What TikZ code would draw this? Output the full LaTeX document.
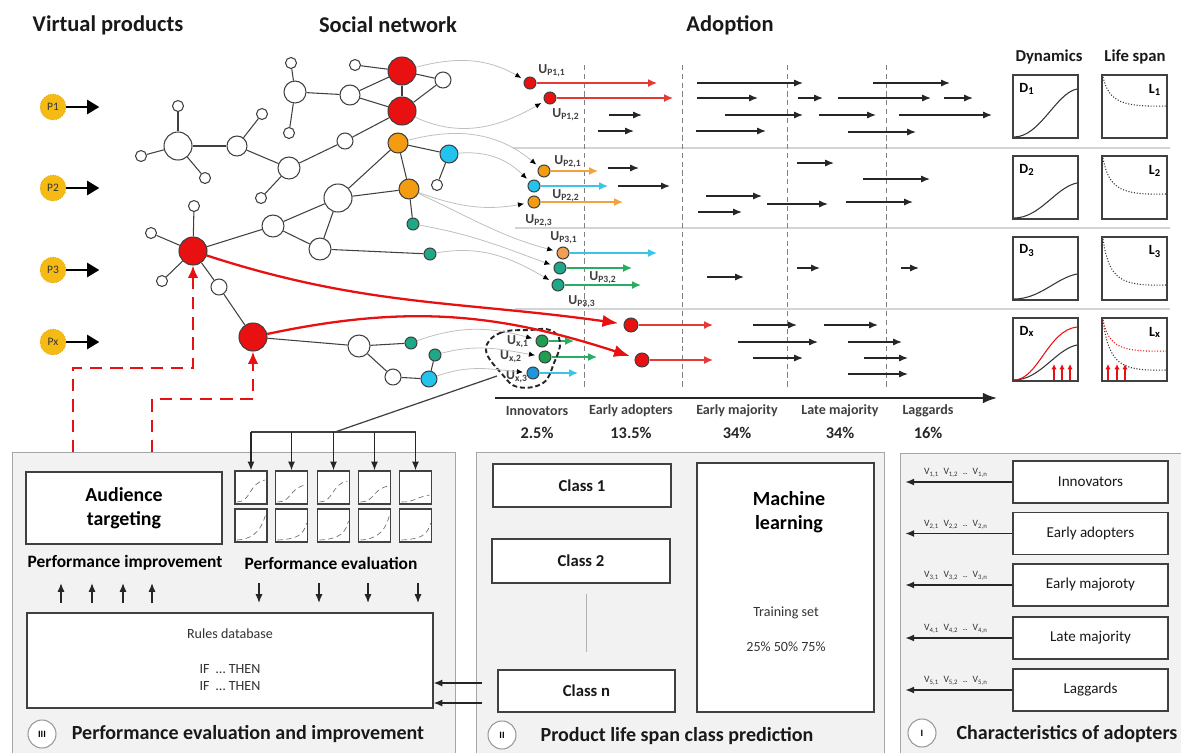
\documentclass[tikz,border=0pt]{standalone}
\usepackage{fontspec}
\setmainfont{Carlito}
\usetikzlibrary{arrows.meta,calc}
\definecolor{cred}{HTML}{E81010}
\definecolor{corange}{HTML}{F39C12}
\definecolor{ccyan}{HTML}{22C4EE}
\definecolor{cteal}{HTML}{1FA888}
\definecolor{cgreen}{HTML}{1E9E50}
\definecolor{cyel}{HTML}{F5BA14}
\definecolor{clor}{HTML}{F0A050}
\definecolor{cblue}{HTML}{1E96DC}
\definecolor{edge}{HTML}{404040}
\definecolor{panelfill}{HTML}{F2F2F2}
\definecolor{panelline}{HTML}{A6A6A6}
\definecolor{arred}{HTML}{E53935}
\definecolor{arorange}{HTML}{F2A33A}
\definecolor{arcyan}{HTML}{3CC4E6}
\definecolor{argreen}{HTML}{27AE60}
\definecolor{sepline}{HTML}{D4D4D4}
\begin{document}
\begin{tikzpicture}[x=0.02cm,y=-0.02cm,
  nd/.style={circle,draw=edge,line width=0.6pt,inner sep=0pt,fill=white},
  rA/.style={minimum size=0.56cm},
  rB/.style={minimum size=0.44cm},
  rC/.style={minimum size=0.40cm},
  rD/.style={minimum size=0.32cm},
  rE/.style={minimum size=0.22cm},
  rF/.style={minimum size=0.24cm},
  rG/.style={minimum size=0.36cm},
  rH/.style={minimum size=0.28cm},
  net/.style={draw=edge,line width=0.6pt},
  gcon/.style={draw=black!25,line width=0.45pt,-{Latex[length=3.5pt,width=3pt,color=black]},shorten >=2pt},
  blk/.style={draw=black!85,line width=0.75pt,-{Latex[length=5pt,width=4pt]}},
  carr/.style={line width=0.8pt,-{Latex[length=5pt,width=4.5pt]}},
  pnode/.style={circle,fill=cyel,draw=cyel!85!black,densely dotted,line width=0.4pt,minimum size=0.52cm,inner sep=0pt,font=\fontsize{6.5}{7}\selectfont,text=black!80},
  parr/.style={draw=black,line width=1.5pt,-{Triangle[length=7pt,width=8pt]}},
  hdr/.style={font=\bfseries\fontsize{12.8}{14}\selectfont,text=black!90},
  sub/.style={font=\bfseries\fontsize{9.5}{11}\selectfont,text=black!90},
  ulab/.style={font=\bfseries\fontsize{7.8}{8}\selectfont,text=black!75,inner sep=0pt},
  stage/.style={font=\bfseries\fontsize{8}{9}\selectfont,text=black!75},
  pct/.style={font=\bfseries\fontsize{9.3}{10}\selectfont,text=black!85},
  panel/.style={draw=panelline,fill=panelfill,line width=0.8pt,inner sep=0pt,anchor=north west},
  box/.style={draw=edge,fill=white,line width=0.7pt,inner sep=0pt,rectangle},
  gbox/.style={draw=edge,fill=white,line width=0.8pt,inner sep=0pt,rectangle},
  ttl/.style={font=\bfseries\fontsize{11.4}{13}\selectfont,text=black!90},
  cls/.style={font=\bfseries\fontsize{9.5}{11}\selectfont,text=black!90},
  small/.style={font=\fontsize{8}{9}\selectfont,text=black!80},
  vlab/.style={font=\fontsize{5.5}{6}\selectfont,text=black!80},
  roman/.style={circle,draw=black!40,fill=white,line width=0.6pt,minimum size=0.56cm,inner sep=0pt,font=\bfseries\fontsize{5.5}{6}\selectfont},
  reddash/.style={draw=cred,line width=1.3pt,dash pattern=on 7pt off 4.5pt,-{Latex[length=7pt,width=6pt]}},
  redthick/.style={draw=cred,line width=1.3pt,-{Latex[length=9pt,width=7pt]},shorten >=3pt},
  vdash/.style={draw=black!50,line width=0.4pt,densely dashed},
  sep/.style={draw=sepline,line width=0.7pt},
  mini/.style={draw=black!60,line width=0.35pt,densely dashed},
  dcurve/.style={draw=black!80,line width=0.6pt},
  lcurve/.style={draw=black!80,line width=0.6pt,densely dotted},
  rarr/.style={draw=cred,line width=0.6pt,-{Latex[length=3pt,width=3pt]}}
]
\useasboundingbox (0,0) rectangle (1181,752);

% ---------------- headers
\node[hdr] (hvp) at (108,25) {Virtual products};
\node[hdr] (hsn) at (388,25) {Social network};
\node[hdr] (had) at (730,25) {Adoption};
\node[sub] (hdy) at (1049,57) {Dynamics};
\node[sub] (hls) at (1135,57) {Life span};

% ---------------- products
\node[pnode] (p1) at (53,107) {P1};
\node[pnode] (p2) at (53,188) {P2};
\node[pnode] (p3) at (53,270) {P3};
\node[pnode] (px) at (53,342) {Px};
\foreach \p in {p1,p2,p3,px} \draw[parr] (\p.east) -- ++(33,0);

% ---------------- row separators and stage lines
\draw[sep] (513,148) -- (1170,148);
\draw[sep] (515,228) -- (1170,228);
\draw[sep] (515,309) -- (1170,309);
\foreach \x in {584,682,787,886} \draw[vdash] (\x,65) -- (\x,388);

% ---------------- panels (background)
\node[panel,minimum width=8.86cm,minimum height=6.04cm] (pan3) at (12,452) {};
\node[panel,minimum width=8.16cm,minimum height=6.04cm] (pan2) at (476,452) {};
\node[panel,minimum width=5.80cm,minimum height=6.02cm] (pan1) at (900,453) {};

% ---------------- social network nodes
\node[nd,rA,fill=cred] (R1) at (402,71) {};
\node[nd,rA,fill=cred] (R2) at (402,111) {};
\node[nd,rD] (Wa) at (443,80) {};
\node[nd,rE] (s1) at (355,65) {};
\node[nd,rC] (Wb) at (350,95) {};
\node[nd,rB] (Wc) at (295,92) {};
\node[nd,rE] (s2) at (291,63) {};
\node[nd,rE] (s3) at (289,133) {};
\node[nd,rD] (Wd) at (345,141) {};
\node[nd,rB] (We) at (289,168) {};
\node[nd,rE] (s4) at (261,198) {};
\node[nd,rC] (Wf) at (237,146) {};
\node[nd,rE] (s5) at (262,114) {};
\node[nd,rA] (Wg) at (178,146) {};
\node[nd,rE] (s6) at (178,106) {};
\node[nd,rE] (s7) at (141,156) {};
\node[nd,rE] (s8) at (205,178) {};
\node[nd,rC,fill=corange] (O1) at (398,143) {};
\node[nd,rG,fill=ccyan] (C1) at (449,154) {};
\node[nd,rE] (s9) at (437,185) {};
\node[nd,rC,fill=corange] (O2) at (409,189) {};
\node[nd,rF,fill=cteal] (T1) at (413,224) {};
\node[nd,rA] (Wh) at (338,198) {};
\node[nd,rB] (Wi) at (273,226) {};
\node[nd,rB] (Wj) at (320,249) {};
\node[nd,rF,fill=cteal] (T2) at (430,254) {};
\node[nd,rA,fill=cred] (R3) at (193,251) {};
\node[nd,rE] (s10) at (194,206) {};
\node[nd,rE] (s11) at (151,233) {};
\node[nd,rE] (s12) at (162,281) {};
\node[nd,rD] (Wk) at (219,287) {};
\node[nd,rA,fill=cred] (R4) at (253,337) {};
\node[nd,rB] (Wl) at (359,346) {};
\node[nd,rF,fill=cteal] (T3) at (411,343) {};
\node[nd,rF,fill=cteal] (T4) at (435,355) {};
\node[nd,rD] (Wm) at (393,377) {};
\node[nd,rD,fill=ccyan] (C2) at (429,379) {};
\foreach \a/\b in {R1/Wa,R2/Wa,R1/R2,R1/s1,R1/Wb,R2/Wb,Wb/Wc,Wc/s2,Wc/s3,R2/Wd,Wd/We,We/s4,We/Wf,Wf/s5,Wf/Wg,Wg/s6,Wg/s7,Wg/s8,O1/C1,O1/O2,C1/s9,O2/T1,O1/Wh,O2/Wh,Wh/Wi,Wh/Wj,Wi/Wj,Wj/T2,Wi/R3,R3/s10,R3/s11,R3/s12,R3/Wk,Wk/R4,R4/Wl,Wl/T3,Wl/Wm,Wm/C2,C2/T4}
  \draw[net] (\a) -- (\b);

% ---------------- adopters
\node[nd,rF,fill=cred] (u11) at (530,83) {};
\node[nd,rF,fill=cred] (u12) at (550,98) {};
\node[nd,rF,fill=corange] (u21) at (544,171) {};
\node[nd,rF,fill=ccyan] (u2c) at (534,186) {};
\node[nd,rF,fill=corange] (u22) at (534,202) {};
\node[nd,rF,fill=clor] (u31) at (563,253) {};
\node[nd,rF,fill=cteal] (u32) at (560,268) {};
\node[nd,rF,fill=cteal] (u33) at (558,285) {};
\node[nd,rH,fill=cred] (x1) at (631,325) {};
\node[nd,rH,fill=cred] (x2) at (642,360) {};
\node[nd,rF,fill=cgreen] (ux1) at (542,341) {};
\node[nd,rF,fill=cgreen] (ux2) at (545,357) {};
\node[nd,rF,fill=cblue] (ux3) at (533,373) {};

\draw[carr,arred] (u11.east) -- (657,83);
\draw[carr,arred] (u12.east) -- (673,98);
\draw[carr,arorange] (u21.east) -- (598,171);
\draw[carr,arcyan] (u2c.east) -- (608,186);
\draw[carr,arorange] (u22.east) -- (623,202);
\draw[carr,arcyan] (u31.east) -- (657,253);
\draw[carr,argreen] (u32.east) -- (632,268);
\draw[carr,argreen] (u33.east) -- (641,285);
\draw[carr,arred] (x1.east) -- (713,325);
\draw[carr,arred] (x2.east) -- (713,360);
\draw[carr,argreen] (ux1.east) -- (574,341);
\draw[carr,argreen] (ux2.east) -- (597,357);
\draw[carr,arcyan] (ux3.east) -- (578,373);

\node[ulab] (lu11) at (552,71) {U\textsubscript{P1,1}};
\node[ulab] (lu12) at (566,115) {U\textsubscript{P1,2}};
\node[ulab] (lu21) at (568,162) {U\textsubscript{P2,1}};
\node[ulab] (lu22) at (566,196) {U\textsubscript{P2,2}};
\node[ulab] (lu23) at (539,221) {U\textsubscript{P2,3}};
\node[ulab] (lu31) at (564,238) {U\textsubscript{P3,1}};
\node[ulab] (lu32) at (603,278) {U\textsubscript{P3,2}};
\node[ulab] (lu33) at (582,302) {U\textsubscript{P3,3}};
\node[ulab] (lx1) at (518,342) {U\textsubscript{x,1}};
\node[ulab] (lx2) at (511,357) {U\textsubscript{x,2}};
\node[ulab] (lx3) at (517,377) {U\textsubscript{x,3}};

\draw[black!85,line width=1.1pt,dash pattern=on 2.8pt off 1.6pt] plot[smooth cycle,tension=0.7] coordinates {(486,350) (500,333) (530,330) (550,330) (560,342) (554,363) (543,383) (518,387) (502,374)};

% gray connectors
\draw[gcon] (R1) to[out=15,in=150] (u11);
\draw[gcon] (R2) to[out=-25,in=-150] (u12);
\draw[gcon] (O1) to[out=15,in=140] (u21);
\draw[gcon] (C1) to[out=5,in=135] (u2c);
\draw[gcon] (O2) to[out=-20,in=-170] (u22);
\draw[gcon] (O2) to[out=-25,in=165] (u31);
\draw[gcon] (T1) to[out=-10,in=160] (u32);
\draw[gcon] (T2) to[out=10,in=150] (u33);
\draw[gcon] (T3) to[out=20,in=165] (ux1);
\draw[gcon] (T4) to[out=15,in=170] (ux2);
\draw[gcon] (C2) to[out=20,in=175] (ux3);

% red thick curves
\draw[redthick] (R3) to[out=-18,in=172] (x1);
\draw[redthick] (R4) to[out=12,in=162] (x2);

% black adoption arrows
\foreach \a/\b/\y in {697/803/83,873/950/83,697/758/98,798/823/98,838/931/98,944/973/98,609/642/115,725/803/115,819/876/115,899/992/115,598/634/131,696/766/131,848/916/132,
608/639/168,797/834/163,618/670/186,863/930/179,706/762/196,767/828/204,846/913/202,698/742/212,
707/744/277,797/820/268,901/919/268,
753/797/325,824/878/325,738/818/342,848/902/342,753/803/358,864/908/358,848/908/374}
  \draw[blk] (\a,\y) -- (\b,\y);

% axis
\draw[black!85,line width=1pt,-{Latex[length=8pt,width=6pt]}] (495,398) -- (997,398);
\node[stage] (st1) at (537,411) {Innovators};
\node[stage] (st2) at (631,411) {Early adopters};
\node[stage] (st3) at (737,411) {Early majority};
\node[stage] (st4) at (840,411) {Late majority};
\node[stage] (st5) at (928,411) {Laggards};
\node[pct] (pc1) at (537,433) {2.5\%};
\node[pct] (pc2) at (631,433) {13.5\%};
\node[pct] (pc3) at (737,433) {34\%};
\node[pct] (pc4) at (840,433) {34\%};
\node[pct] (pc5) at (928,433) {16\%};

% ---------------- dynamics / life span
\foreach \r/\yc in {1/106.5,2/187.5,3/268.5,x/349.5}{
  \node[gbox,minimum width=1.3cm,minimum height=1.26cm] (D\r) at (1045.5,\yc) {};
  \node[gbox,minimum width=1.3cm,minimum height=1.26cm] (L\r) at (1134.5,\yc) {};
  \node[font=\bfseries\fontsize{8}{9}\selectfont,inner sep=0pt] at (1027,\yc-18) {D\textsubscript{\r}};
  \node[font=\bfseries\fontsize{8}{9}\selectfont,inner sep=0pt] at (1155,\yc-17) {L\textsubscript{\r}};
}
\foreach \yt/\de/\le in {75/14/31,156/27/38,237/37/48}{
  \draw[dcurve] (1014,{\yt+62}) .. controls (1040,{\yt+62}) and (1056,{\yt+\de+4}) .. (1077,{\yt+\de});
  \draw[lcurve] (1103,{\yt+2}) .. controls (1109,{\yt+\le-4}) and (1122,{\yt+\le+1}) .. (1166,{\yt+\le});
}
\draw[dcurve] (1014,380) .. controls (1040,380) and (1056,349) .. (1077,345);
\draw[dcurve,cred] (1014,380) .. controls (1038,380) and (1048,330) .. (1077,327);
\draw[lcurve] (1103,320) .. controls (1109,366) and (1122,371) .. (1166,370);
\draw[lcurve,cred] (1103,320) .. controls (1109,348) and (1122,352) .. (1166,351);
\foreach \x in {1054,1062,1070} \draw[rarr] (\x,380) -- (\x,364);
\foreach \x in {1108,1117,1125} \draw[rarr] (\x,380) -- (\x,364);

% ---------------- red dashed feedback
\draw[reddash] (73,452) -- (73,368) -| (R3.south);
\draw[reddash] (152,452) -- (152,399) -| (R4.south);

% ---------------- panel III
\node[box,minimum width=3.92cm,minimum height=1.44cm,align=center,font=\bfseries\fontsize{11.3}{13.5}\selectfont] (aud) at (124,508) {Audience\\targeting};
\foreach \i/\xc/\ea/\eb in {1/251/12/4,2/291.5/17/14,3/333.5/13/12,4/374.5/18/6,5/415.5/27/14}{
  \node[box,minimum width=0.64cm,minimum height=0.66cm] (sa\i) at (\xc,487.5) {};
  \node[box,minimum width=0.64cm,minimum height=0.66cm] (sb\i) at (\xc,525.5) {};
  \draw[mini] ({\xc-14},502) .. controls ({\xc},502) and ({\xc-2},{471+\ea}) .. ({\xc+14},{471+\ea-3});
  \draw[mini] ({\xc-14},540) .. controls ({\xc+6},539) and ({\xc+12},{509+\eb+12}) .. ({\xc+15},{509+\eb});
}
\coordinate (hub) at (335,432);
\draw[edge,line width=0.7pt] (497,376) -- (hub);
\draw[edge,line width=0.7pt] (sa1.north |- hub) -- (sa5.north |- hub);
\foreach \i in {1,...,5} \draw[blk] (sa\i.north |- hub) -- (sa\i.north);

\node[font=\bfseries\fontsize{9.9}{11}\selectfont] (pimp) at (125,563) {Performance improvement};
\node[font=\bfseries\fontsize{9.9}{11}\selectfont] (peva) at (331,563) {Performance evaluation};
\foreach \x in {61,92,123,152} \draw[blk] (\x,603) -- (\x,583);
\foreach \x in {259,319,368,418} \draw[blk] (\x,583) -- (\x,603);

\node[box,minimum width=8.12cm,minimum height=1.9cm] (rules) at (230,660.5) {};
\node[small] (rtx) at (230,634) {Rules database};
\node[small] (if1) at (230,669) {IF \ \dots\ THEN};
\node[small] (if2) at (230,686) {IF \ \dots\ THEN};
\node[roman] (c3) at (42,734) {III};
\node[ttl] (t3) at (248,734) {Performance evaluation and improvement};

% ---------------- panel II
\node[box,cls,minimum width=3.56cm,minimum height=0.86cm] (cl1) at (582,485.5) {Class 1};
\node[box,cls,minimum width=3.56cm,minimum height=0.88cm] (cl2) at (581,561) {Class 2};
\node[box,cls,minimum width=3.54cm,minimum height=0.84cm] (cln) at (586.5,691) {Class n};
\draw[black!30,line width=0.5pt] (586,594) -- (586,652);
\node[box,minimum width=3.54cm,minimum height=4.98cm] (ml) at (785.5,587.5) {};
\node[align=center,font=\bfseries\fontsize{11.4}{13.5}\selectfont] (mlt) at (789,512) {Machine\\learning};
\node[small] (trs) at (786,613) {Training set};
\node[small] (pcs) at (786,647) {25\% 50\% 75\%};
\draw[blk] (482,683) -- (rules.east |- 0,683);
\draw[blk] (482,703) -- (rules.east |- 0,703);
\node[roman] (c2) at (502,735) {II};
\node[ttl] (t2) at (677,736) {Product life span class prediction};

% ---------------- panel I
\foreach \i/\yc/\t in {1/482/Innovators,2/533.5/Early adopters,3/585/Early majoroty,4/638/Late majority,5/690/Laggards}{
  \node[box,minimum width=3.1cm,minimum height=0.84cm,font=\fontsize{8.6}{10}\selectfont,text=black!90] (ch\i) at (1090.5,\yc) {\t};
  \draw[blk] (ch\i.west) -- ++(-107,0);
  \node[vlab] at (956,{\yc-9}) {V\textsubscript{\i,1}\ \ V\textsubscript{\i,2} \ .. \ V\textsubscript{\i,n}};
}
\node[roman] (c1) at (922,733) {I};
\node[ttl] (t1) at (1067,734) {Characteristics of adopters};
\end{tikzpicture}
\end{document}
